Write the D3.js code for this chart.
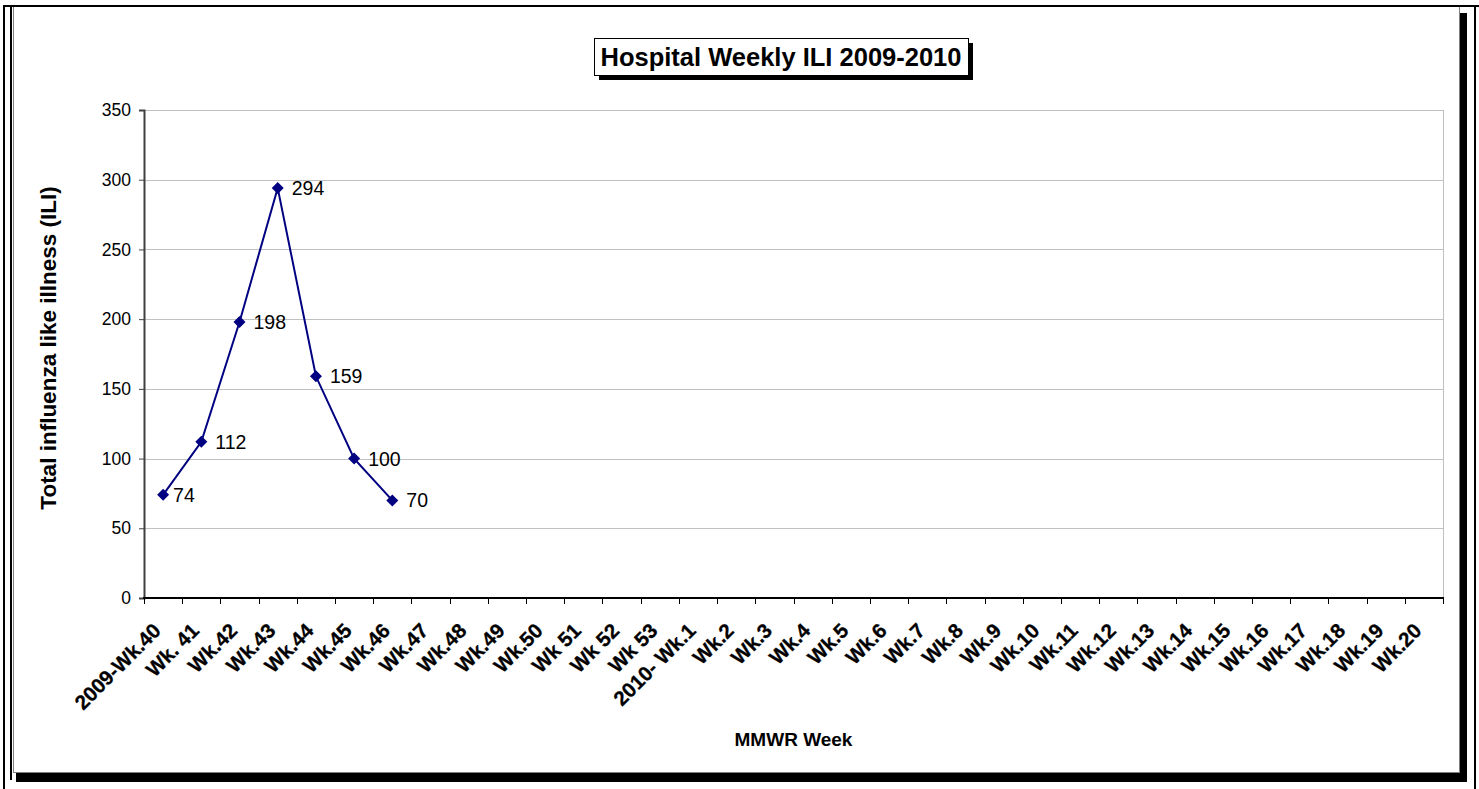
<!DOCTYPE html>
<html>
<head>
<meta charset="utf-8">
<script src="https://cdn.jsdelivr.net/npm/d3@7"></script>
<style>
  html, body { margin: 0; padding: 0; background: #fff; }
  svg { display: block; }
  text { font-family: "Liberation Sans", Arial, sans-serif; }
</style>
</head>
<body>
<svg id="chart" width="1479" height="789"></svg>
<script>
// ---- data ----
const categories = [
  "2009-Wk.40","Wk. 41","Wk.42","Wk.43","Wk.44","Wk.45","Wk.46","Wk.47","Wk.48","Wk.49",
  "Wk.50","Wk 51","Wk 52","Wk 53","2010- Wk.1","Wk.2","Wk.3","Wk.4","Wk.5","Wk.6",
  "Wk.7","Wk.8","Wk.9","Wk.10","Wk.11","Wk.12","Wk.13","Wk.14","Wk.15","Wk.16",
  "Wk.17","Wk.18","Wk.19","Wk.20"
];
const values = [74, 112, 198, 294, 159, 100, 70];
const yTicks = [0, 50, 100, 150, 200, 250, 300, 350];
const titleText = "Hospital Weekly ILI 2009-2010";
const xTitle = "MMWR Week";
const yTitle = "Total influenza like illness (ILI)";

// ---- layout ----
const W = 1479, H = 789;
const plot = { left: 144, right: 1443, top: 110, bottom: 598 };
const svg = d3.select("#chart");

// outer frame & chart area
const frame = svg.append("g");
frame.append("rect").attr("x", 1460).attr("y", 13).attr("width", 7).attr("height", 769).attr("fill", "#000");
frame.append("rect").attr("x", 16).attr("y", 773).attr("width", 1451).attr("height", 9).attr("fill", "#000");
frame.append("line").attr("x1", 13.5).attr("x2", 13.5).attr("y1", 7).attr("y2", 773).attr("stroke", "#808080").attr("stroke-width", 1);
frame.append("line").attr("x1", 1459.5).attr("x2", 1459.5).attr("y1", 7).attr("y2", 773).attr("stroke", "#808080").attr("stroke-width", 1);
frame.append("line").attr("x1", 13).attr("x2", 1460).attr("y1", 772.5).attr("y2", 772.5).attr("stroke", "#808080").attr("stroke-width", 1);
frame.append("line").attr("x1", 11).attr("x2", 11).attr("y1", 7).attr("y2", 780).attr("stroke", "#000").attr("stroke-width", 2);
frame.append("line").attr("x1", 4).attr("x2", 4).attr("y1", 5).attr("y2", H).attr("stroke", "#000").attr("stroke-width", 2);
frame.append("line").attr("x1", 3).attr("x2", W).attr("y1", 6).attr("y2", 6).attr("stroke", "#000").attr("stroke-width", 2);
frame.append("line").attr("x1", 1475).attr("x2", 1475).attr("y1", 5).attr("y2", H).attr("stroke", "#000").attr("stroke-width", 2);

// ---- scales ----
const x = d3.scaleBand().domain(categories).range([plot.left, plot.right]).padding(0);
const y = d3.scaleLinear().domain([0, 350]).range([plot.bottom, plot.top]);
const bw = x.bandwidth();

// gridlines
const grid = svg.append("g")
  .attr("transform", `translate(${plot.left},0)`)
  .call(d3.axisLeft(y).tickValues(yTicks.filter(v => v > 0)).tickSize(-(plot.right - plot.left)).tickFormat(""));
grid.select(".domain").remove();
grid.selectAll("line").attr("stroke", "#c0c0c0").attr("stroke-width", 1).attr("shape-rendering", "crispEdges");

// plot area right border
svg.append("line").attr("x1", plot.right + 0.5).attr("x2", plot.right + 0.5)
  .attr("y1", plot.top).attr("y2", plot.bottom).attr("stroke", "#c0c0c0").attr("shape-rendering", "crispEdges");

// y axis
const yAxis = svg.append("g")
  .attr("transform", `translate(${plot.left},0)`)
  .call(d3.axisLeft(y).tickValues(yTicks).tickSize(5).tickPadding(8).tickFormat(d3.format("d")));
yAxis.select(".domain").attr("stroke", "#404040").attr("stroke-width", 2);
yAxis.selectAll(".tick line").attr("stroke", "#404040").attr("stroke-width", 1);
yAxis.selectAll(".tick text").attr("font-size", "17.5px").attr("fill", "#000")
  .attr("font-family", "'Liberation Sans', Arial, sans-serif");

// x axis
const xAxisG = svg.append("g");
xAxisG.append("line").attr("x1", plot.left - 1).attr("x2", plot.right + 1)
  .attr("y1", plot.bottom).attr("y2", plot.bottom).attr("stroke", "#000").attr("stroke-width", 2);
const boundaries = categories.map(c => x(c)).concat([x(categories[categories.length - 1]) + bw]);
xAxisG.selectAll("line.tk").data(boundaries).join("line").attr("class", "tk")
  .attr("x1", d => Math.round(d) + 0.5).attr("x2", d => Math.round(d) + 0.5)
  .attr("y1", plot.bottom).attr("y2", plot.bottom + 6).attr("stroke", "#000").attr("stroke-width", 1);
xAxisG.selectAll("text.lbl").data(categories).join("text").attr("class", "lbl")
  .attr("transform", c => `translate(${x(c) + bw / 2 - 1},${plot.bottom + 34}) rotate(-45)`)
  .attr("text-anchor", "end")
  .attr("font-size", "20.5px").attr("font-weight", "bold").attr("fill", "#000")
  .attr("stroke", "#000").attr("stroke-width", 0.3)
  .text(c => c);

// line + markers
const pts = values.map((v, i) => ({ c: categories[i], v, i }));
const line = d3.line().x(d => x(d.c) + bw / 2).y(d => y(d.v));
svg.append("path").datum(pts).attr("d", line)
  .attr("fill", "none").attr("stroke", "#000080").attr("stroke-width", 2);
svg.selectAll("path.mk").data(pts).join("path").attr("class", "mk")
  .attr("d", d3.symbol().type(d3.symbolSquare).size(72))
  .attr("transform", d => `translate(${x(d.c) + bw / 2},${y(d.v)}) rotate(45)`)
  .attr("fill", "#000080");
svg.selectAll("text.dl").data(pts).join("text").attr("class", "dl")
  .attr("x", d => x(d.c) + bw / 2 + (d.i === 0 ? 10 : 14))
  .attr("y", d => y(d.v))
  .attr("dy", "0.36em")
  .attr("font-size", "19.5px").attr("fill", "#000")
  .text(d => d.v);

// axis titles
svg.append("text").attr("x", (plot.left + plot.right) / 2).attr("y", 746)
  .attr("text-anchor", "middle").attr("font-size", "19px").attr("font-weight", "bold").text(xTitle);
svg.append("text").attr("transform", `translate(56,${(plot.top + plot.bottom) / 2 - 6}) rotate(-90)`)
  .attr("text-anchor", "middle").attr("font-size", "22.5px").attr("font-weight", "bold").text(yTitle);

// title box
const tb = { x: 594, y: 38, w: 374, h: 37 };
svg.append("rect").attr("x", tb.x + 5).attr("y", tb.y + 5).attr("width", tb.w).attr("height", tb.h).attr("fill", "#000");
svg.append("rect").attr("x", tb.x + 0.5).attr("y", tb.y + 0.5).attr("width", tb.w).attr("height", tb.h)
  .attr("fill", "#fff").attr("stroke", "#000").attr("stroke-width", 1);
svg.append("text").attr("x", tb.x + tb.w / 2).attr("y", tb.y + 28)
  .attr("text-anchor", "middle").attr("font-size", "25.5px").attr("font-weight", "bold").text(titleText);
</script>
</body>
</html>
